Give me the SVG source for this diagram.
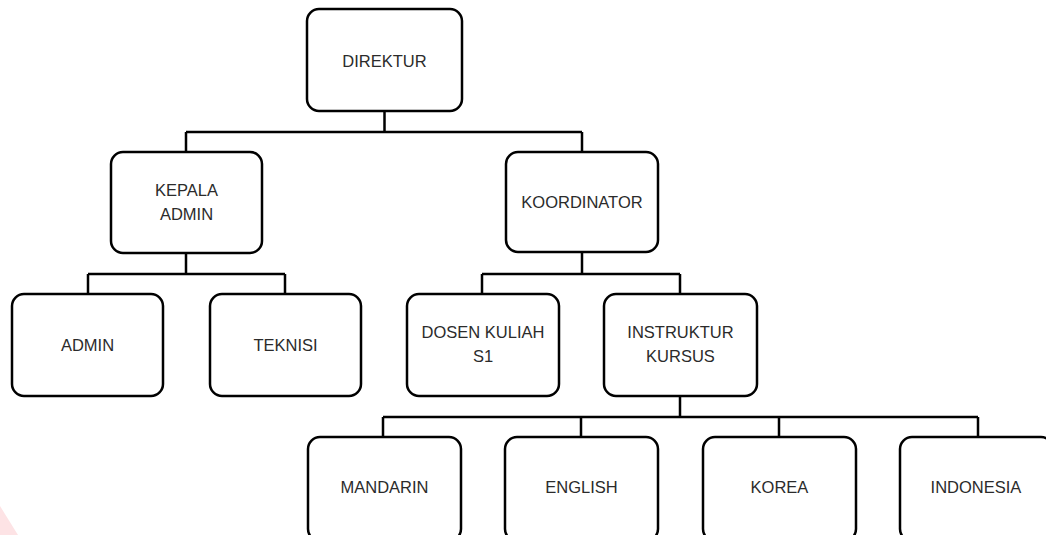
<svg xmlns="http://www.w3.org/2000/svg" width="1046" height="535" viewBox="0 0 1046 535">
<style>
.box{fill:#fff;stroke:#000;stroke-width:2.5}
.lbl{font-family:"Liberation Sans",Arial,sans-serif;font-size:16.5px;fill:#2b2b2b;text-anchor:middle}
.con{fill:none;stroke:#000;stroke-width:2.5}
</style>
<rect width="1046" height="535" fill="#fff"/>
<polygon points="0,506 18,535 0,535" fill="#fde3e5"/>
<g id="connectors">
<path class="con" d="M384.5,111V132M186,132H582M186,132V152M582,132V152"/>
<path class="con" d="M186,253V274M88,274H285M88,274V294M285,274V294"/>
<path class="con" d="M582,252V274M482,274H680M482,274V294M680,274V294"/>
<path class="con" d="M680,396V417M383,417H978M383,417V437M581,417V437M779,417V437M978,417V437"/>
</g>
<g id="direktur"><rect class="box" x="307" y="9" width="155" height="102" rx="12"/><text class="lbl" x="384.5" y="67">DIREKTUR</text></g>
<g id="kepala-admin"><rect class="box" x="111" y="152" width="151" height="101" rx="12"/><text class="lbl" x="186.5" y="196">KEPALA</text><text class="lbl" x="186.5" y="220">ADMIN</text></g>
<g id="koordinator"><rect class="box" x="506" y="152" width="152" height="100" rx="12"/><text class="lbl" x="582" y="208">KOORDINATOR</text></g>
<g id="admin"><rect class="box" x="12" y="294" width="151" height="102" rx="12"/><text class="lbl" x="87.5" y="351">ADMIN</text></g>
<g id="teknisi"><rect class="box" x="210" y="294" width="151" height="102" rx="12"/><text class="lbl" x="285.5" y="351">TEKNISI</text></g>
<g id="dosen"><rect class="box" x="407" y="294" width="152" height="102" rx="12"/><text class="lbl" x="483" y="338">DOSEN KULIAH</text><text class="lbl" x="483" y="362">S1</text></g>
<g id="instruktur"><rect class="box" x="604" y="294" width="153" height="102" rx="12"/><text class="lbl" x="680.5" y="338">INSTRUKTUR</text><text class="lbl" x="680.5" y="362">KURSUS</text></g>
<g id="mandarin"><rect class="box" x="308" y="437" width="153" height="104" rx="12"/><text class="lbl" x="384.5" y="493">MANDARIN</text></g>
<g id="english"><rect class="box" x="505" y="437" width="153" height="104" rx="12"/><text class="lbl" x="581.5" y="493">ENGLISH</text></g>
<g id="korea"><rect class="box" x="703" y="437" width="153" height="104" rx="12"/><text class="lbl" x="779.5" y="493">KOREA</text></g>
<g id="indonesia"><rect class="box" x="900" y="437" width="153" height="104" rx="12"/><text class="lbl" x="976" y="493">INDONESIA</text></g>
</svg>
